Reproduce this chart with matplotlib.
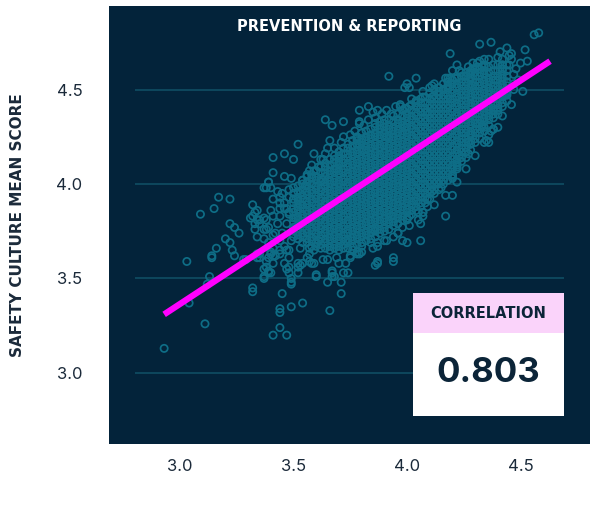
import numpy as np
import matplotlib
matplotlib.use("Agg")
import matplotlib.pyplot as plt
from matplotlib.patches import Rectangle

plt.rcParams["font.family"] = ["Inter", "DejaVu Sans"]
CAPS = ["DejaVu Sans"]          # wide bold caps for headings

# ------------------------------------------------------- data
title = "PREVENTION & REPORTING"
y_label = "SAFETY CULTURE MEAN SCORE"
x_ticks = [3.0, 3.5, 4.0, 4.5]
y_ticks = [3.0, 3.5, 4.0, 4.5]
correlation = 0.803
fit_x = [2.93, 4.63]
fit_y = [3.31, 4.65]

# isolated scores away from the main cloud
outer_pts = [
    (2.93, 3.13), (3.11, 3.26), (3.04, 3.37), (3.03, 3.59), (3.14, 3.62), (3.14, 3.61),
    (3.13, 3.51), (3.12, 3.47), (3.09, 3.84), (3.17, 3.93), (3.22, 3.92), (3.15, 3.87),
    (3.32, 3.89), (3.32, 3.83), (3.33, 3.85), (3.33, 3.79), (3.34, 3.81), (3.33, 3.76),
    (3.22, 3.79), (3.24, 3.77), (3.26, 3.74), (3.20, 3.71), (3.22, 3.69), (3.16, 3.66),
    (3.23, 3.65), (3.24, 3.62), (3.28, 3.60), (3.34, 3.63), (3.32, 3.45), (3.32, 3.43),
    (3.37, 3.50), (3.37, 3.55), (3.39, 3.53), (3.45, 3.42), (3.44, 3.34), (3.44, 3.32),
    (3.49, 3.35), (3.44, 3.24), (3.41, 3.20), (3.47, 3.20), (3.47, 3.55), (3.48, 3.53),
    (3.49, 3.50), (3.49, 3.48), (3.49, 3.47), (3.40, 3.64), (3.41, 3.62), (3.39, 3.61),
    (3.41, 3.58), (3.38, 3.56), (3.53, 3.57), (3.29, 3.60), (3.34, 3.61), (3.35, 3.63),
    (3.52, 4.21), (3.41, 4.14), (3.46, 4.16), (3.50, 4.13), (3.41, 4.06), (3.46, 4.04),
    (3.49, 4.03), (3.38, 3.98), (3.39, 4.01), (3.43, 3.96), (3.45, 3.95), (3.48, 3.93),
    (3.41, 3.92), (3.44, 3.90), (3.46, 3.87), (3.48, 3.85), (3.31, 3.82), (3.35, 3.79),
    (3.37, 3.82), (3.38, 3.76), (3.37, 3.71), (3.39, 3.69), (3.42, 3.74), (3.44, 3.70),
    (3.46, 3.67), (3.48, 3.65), (3.41, 3.66), (3.44, 3.63), (3.53, 3.66), (3.56, 3.61),
    (3.57, 3.66), (3.59, 3.65), (3.54, 3.58), (3.52, 3.53), (3.58, 3.58), (3.59, 3.58),
    (3.60, 3.52), (3.65, 3.60), (3.67, 3.54), (3.68, 3.51), (3.65, 3.48), (3.70, 3.58),
    (3.72, 3.53), (3.73, 3.58), (3.71, 3.48), (3.71, 3.42), (3.66, 3.33), (3.54, 3.37),
    (3.60, 3.51), (3.67, 3.53), (3.67, 3.51), (3.57, 3.59), (3.52, 3.58), (3.52, 3.56),
    (3.78, 3.63), (3.78, 3.64), (3.76, 3.65), (3.74, 3.53), (3.75, 3.61), (3.87, 3.58),
    (3.87, 3.59), (3.86, 3.57), (3.94, 3.59), (3.87, 3.67), (3.79, 3.63), (3.80, 3.67),
    (4.06, 3.70), (4.00, 3.69), (3.98, 3.70), (3.94, 3.61), (3.94, 3.72), (3.91, 3.70),
    (3.87, 3.69), (3.84, 3.69), (3.96, 3.74), (3.98, 3.77), (4.00, 3.81), (4.01, 3.83),
    (4.05, 3.81), (4.07, 3.85), (4.09, 3.88), (4.09, 3.92), (4.11, 3.96), (4.15, 3.98),
    (4.16, 4.02), (4.20, 4.03), (4.20, 4.05), (4.22, 4.09), (4.06, 3.79), (4.05, 3.85),
    (4.07, 3.85), (4.17, 3.83), (4.20, 3.94), (4.22, 4.10), (4.20, 4.04), (4.27, 4.16),
    (4.28, 4.26), (4.27, 4.22), (4.40, 4.30), (4.38, 4.29), (4.37, 4.28), (4.36, 4.26),
    (4.35, 4.23), (4.36, 4.22), (4.33, 4.30), (4.31, 4.32), (4.38, 4.39), (4.40, 4.39),
    (4.36, 4.39), (4.51, 4.49), (4.44, 4.54), (4.44, 4.48), (4.41, 4.49), (4.42, 4.66),
    (4.42, 4.63), (4.45, 4.63), (4.42, 4.60), (4.53, 4.65), (4.52, 4.71), (4.44, 4.72),
    (4.46, 4.69), (4.41, 4.70), (4.32, 4.74), (4.37, 4.75), (4.56, 4.79), (4.58, 4.80),
    (4.19, 4.69), (4.29, 4.64), (4.32, 4.65), (4.34, 4.66), (4.34, 4.63), (4.22, 4.63),
    (4.20, 4.60), (4.19, 4.56), (4.21, 4.56), (4.24, 4.59), (3.92, 4.57), (4.04, 4.56),
    (4.00, 4.53), (4.01, 4.51), (3.99, 4.51), (4.11, 4.52), (4.18, 4.56), (4.20, 4.55),
    (4.25, 4.57), (4.28, 4.59), (4.29, 4.61), (4.31, 4.62), (4.33, 4.62), (4.26, 4.57),
    (3.79, 4.39), (3.64, 4.34), (3.67, 4.31), (3.72, 4.33), (3.79, 4.33), (3.79, 4.32),
    (3.66, 4.23), (3.72, 4.25), (3.59, 4.16), (3.65, 4.19), (3.63, 4.13), (3.61, 4.09),
    (3.59, 4.07), (3.70, 4.14), (3.78, 4.24), (3.79, 4.21), (3.78, 4.21), (3.80, 4.27),
    (3.83, 4.41), (3.85, 4.38), (3.87, 4.39), (3.91, 4.39), (3.93, 4.37), (3.97, 4.41),
    (3.99, 4.40), (4.01, 4.41), (4.04, 4.44), (4.07, 4.46), (4.11, 4.46), (4.14, 4.49),
    (4.16, 4.50), (4.18, 4.51), (3.57, 4.07), (3.56, 4.05), (3.54, 4.02), (3.39, 4.01),
    (3.37, 3.98), (3.40, 3.98), (3.44, 3.87), (3.47, 3.87), (3.48, 3.84), (3.44, 3.83),
    (3.34, 3.86), (3.35, 3.81), (3.38, 3.81), (3.41, 3.83), (3.37, 3.76), (3.39, 3.77),
    (3.34, 3.72), (3.41, 3.73), (3.40, 3.63), (3.42, 3.62), (3.35, 3.61), (3.38, 3.59),
    (3.44, 3.65), (3.47, 3.65), (3.48, 3.61), (3.46, 3.58), (3.48, 3.56), (3.39, 3.54),
    (3.37, 3.51), (3.40, 3.53),
]

# scores hugging the edge of the dense band
edge_pts = [
    (3.58, 4.10), (3.62, 4.13), (3.68, 4.19), (3.71, 4.22), (3.75, 4.26), (3.81, 4.31),
    (3.86, 4.35), (3.89, 4.37), (3.95, 4.41), (4.02, 4.45), (4.07, 4.49), (4.12, 4.53),
    (4.17, 4.56), (4.23, 4.60), (4.27, 4.62), (3.83, 4.34), (3.97, 4.42), (4.10, 4.51),
    (3.64, 4.16), (3.77, 4.28), (3.57, 3.63), (3.63, 3.60), (3.69, 3.61), (3.75, 3.62),
    (3.80, 3.64), (3.85, 3.66), (3.90, 3.70), (3.96, 3.74), (4.01, 3.78), (4.07, 3.83),
    (4.12, 3.89), (4.17, 3.94), (4.22, 4.01), (4.26, 4.08), (4.30, 4.15), (4.34, 4.22),
    (4.38, 4.29), (4.42, 4.36), (4.46, 4.42), (4.47, 4.50), (4.47, 4.58), (4.46, 4.66),
    (4.48, 4.61), (4.49, 4.55), (4.50, 4.64), (4.47, 4.53), (4.45, 4.68), (4.40, 4.67),
    (4.36, 4.66), (4.31, 4.64), (3.47, 3.79), (3.50, 3.76), (3.45, 3.74), (3.52, 3.71),
    (3.49, 3.70), (3.46, 3.90), (3.50, 3.92), (3.53, 3.95), (3.43, 3.79), (3.40, 3.86),
    (3.51, 3.82), (3.48, 3.97), (3.44, 3.93), (3.55, 3.99), (3.53, 3.89),
    (3.61, 3.70), (3.63, 4.02), (3.69, 4.08), (3.73, 3.70), (3.81, 4.18), (3.85, 3.76),
    (3.91, 4.25), (3.93, 3.83), (3.99, 4.30), (4.03, 3.91), (4.09, 4.38), (4.13, 4.01),
    (4.19, 4.45), (4.23, 4.15), (4.29, 4.52), (4.33, 4.31), (4.39, 4.55), (4.43, 4.47),
]

# dense band: x of each column and the scores stacked in it
band_x = [3.50, 3.52, 3.54, 3.56, 3.58, 3.60, 3.62, 3.64, 3.66, 3.68, 3.70, 3.72,
          3.74, 3.76, 3.78, 3.80, 3.82, 3.84, 3.86, 3.88, 3.90, 3.92, 3.94, 3.96,
          3.98, 4.00, 4.02, 4.04, 4.06, 4.08, 4.10, 4.12, 4.14, 4.16, 4.18, 4.20,
          4.22, 4.24, 4.26, 4.28, 4.30, 4.32, 4.34, 4.36, 4.38, 4.40, 4.42, 4.44]
band_y = [
    [3.72, 3.75, 3.77, 3.80, 3.82, 3.85, 3.87, 3.90, 3.92, 3.95, 3.98],
    [3.71, 3.73, 3.76, 3.78, 3.81, 3.83, 3.86, 3.88, 3.91, 3.93, 3.96, 3.99],
    [3.69, 3.72, 3.74, 3.77, 3.79, 3.82, 3.84, 3.87, 3.89, 3.92, 3.94, 3.97, 4.00, 4.02],
    [3.69, 3.71, 3.74, 3.76, 3.79, 3.81, 3.84, 3.86, 3.89, 3.91, 3.94, 3.96, 3.99, 4.01, 4.04],
    [3.67, 3.70, 3.72, 3.75, 3.77, 3.80, 3.82, 3.85, 3.87, 3.90, 3.92, 3.95, 3.97, 4.00, 4.03, 4.05],
    [3.67, 3.69, 3.72, 3.74, 3.77, 3.79, 3.82, 3.84, 3.87, 3.89, 3.92, 3.94, 3.97, 3.99, 4.02, 4.04,
     4.07],
    [3.66, 3.68, 3.71, 3.73, 3.76, 3.78, 3.81, 3.83, 3.86, 3.88, 3.91, 3.93, 3.96, 3.98, 4.01, 4.03,
     4.06, 4.09],
    [3.66, 3.69, 3.71, 3.74, 3.76, 3.79, 3.81, 3.84, 3.86, 3.89, 3.91, 3.94, 3.96, 3.99, 4.01, 4.04,
     4.06, 4.09, 4.11],
    [3.65, 3.67, 3.70, 3.72, 3.75, 3.77, 3.80, 3.82, 3.85, 3.87, 3.90, 3.92, 3.95, 3.97, 4.00, 4.02,
     4.05, 4.07, 4.10, 4.13],
    [3.66, 3.68, 3.71, 3.73, 3.76, 3.78, 3.81, 3.83, 3.86, 3.88, 3.91, 3.93, 3.96, 3.98, 4.01, 4.03,
     4.06, 4.08, 4.11, 4.13, 4.15],
    [3.65, 3.67, 3.70, 3.72, 3.75, 3.77, 3.80, 3.82, 3.85, 3.87, 3.90, 3.92, 3.95, 3.97, 4.00, 4.02,
     4.05, 4.07, 4.10, 4.12, 4.15, 4.17],
    [3.66, 3.68, 3.71, 3.73, 3.76, 3.78, 3.81, 3.83, 3.86, 3.88, 3.91, 3.93, 3.96, 3.98, 4.01, 4.03,
     4.06, 4.08, 4.11, 4.13, 4.16, 4.19],
    [3.66, 3.69, 3.71, 3.74, 3.76, 3.79, 3.81, 3.84, 3.86, 3.89, 3.91, 3.94, 3.96, 3.99, 4.01, 4.04,
     4.06, 4.09, 4.11, 4.14, 4.16, 4.19, 4.21],
    [3.67, 3.70, 3.72, 3.75, 3.77, 3.80, 3.82, 3.85, 3.87, 3.90, 3.92, 3.95, 3.97, 4.00, 4.02, 4.05,
     4.07, 4.10, 4.12, 4.15, 4.17, 4.20, 4.23],
    [3.68, 3.71, 3.73, 3.76, 3.78, 3.81, 3.83, 3.86, 3.88, 3.91, 3.93, 3.96, 3.98, 4.01, 4.03, 4.06,
     4.08, 4.11, 4.13, 4.16, 4.18, 4.21, 4.23, 4.25],
    [3.69, 3.72, 3.74, 3.77, 3.79, 3.82, 3.84, 3.87, 3.89, 3.92, 3.94, 3.97, 3.99, 4.02, 4.04, 4.07,
     4.09, 4.12, 4.14, 4.17, 4.19, 4.22, 4.24, 4.27],
    [3.70, 3.73, 3.75, 3.78, 3.80, 3.83, 3.85, 3.88, 3.90, 3.93, 3.95, 3.98, 4.00, 4.03, 4.05, 4.08,
     4.10, 4.13, 4.15, 4.18, 4.20, 4.23, 4.25, 4.28],
    [3.71, 3.74, 3.76, 3.79, 3.81, 3.84, 3.86, 3.89, 3.91, 3.94, 3.96, 3.99, 4.01, 4.04, 4.06, 4.09,
     4.11, 4.14, 4.16, 4.19, 4.21, 4.24, 4.26, 4.29],
    [3.72, 3.75, 3.77, 3.80, 3.82, 3.85, 3.87, 3.90, 3.92, 3.95, 3.97, 4.00, 4.02, 4.05, 4.07, 4.10,
     4.12, 4.15, 4.17, 4.20, 4.22, 4.25, 4.27, 4.30, 4.32],
    [3.74, 3.76, 3.79, 3.81, 3.84, 3.86, 3.89, 3.91, 3.94, 3.96, 3.99, 4.01, 4.04, 4.06, 4.09, 4.11,
     4.14, 4.16, 4.19, 4.21, 4.24, 4.26, 4.29, 4.31, 4.33],
    [3.75, 3.77, 3.80, 3.82, 3.85, 3.87, 3.90, 3.92, 3.95, 3.97, 4.00, 4.02, 4.05, 4.07, 4.10, 4.12,
     4.15, 4.17, 4.20, 4.22, 4.25, 4.27, 4.30, 4.32, 4.34],
    [3.76, 3.79, 3.81, 3.84, 3.86, 3.89, 3.91, 3.94, 3.96, 3.99, 4.01, 4.04, 4.06, 4.09, 4.11, 4.14,
     4.16, 4.19, 4.21, 4.24, 4.26, 4.29, 4.31, 4.34],
    [3.78, 3.80, 3.83, 3.85, 3.88, 3.90, 3.93, 3.95, 3.98, 4.00, 4.03, 4.05, 4.08, 4.10, 4.13, 4.15,
     4.18, 4.20, 4.23, 4.25, 4.28, 4.30, 4.33, 4.36],
    [3.79, 3.82, 3.84, 3.87, 3.89, 3.92, 3.94, 3.97, 3.99, 4.02, 4.04, 4.07, 4.09, 4.12, 4.14, 4.17,
     4.19, 4.22, 4.24, 4.27, 4.29, 4.32, 4.34, 4.37],
    [3.81, 3.83, 3.86, 3.88, 3.91, 3.93, 3.96, 3.98, 4.01, 4.03, 4.06, 4.08, 4.11, 4.13, 4.16, 4.18,
     4.21, 4.23, 4.26, 4.28, 4.31, 4.33, 4.36, 4.39],
    [3.82, 3.85, 3.87, 3.90, 3.92, 3.95, 3.97, 4.00, 4.02, 4.05, 4.07, 4.10, 4.12, 4.15, 4.17, 4.20,
     4.22, 4.25, 4.27, 4.30, 4.32, 4.35, 4.37, 4.40],
    [3.84, 3.86, 3.89, 3.91, 3.94, 3.96, 3.99, 4.01, 4.04, 4.06, 4.09, 4.11, 4.14, 4.16, 4.19, 4.21,
     4.24, 4.26, 4.29, 4.31, 4.34, 4.36, 4.39, 4.42],
    [3.86, 3.88, 3.91, 3.93, 3.96, 3.98, 4.01, 4.03, 4.06, 4.08, 4.11, 4.13, 4.16, 4.18, 4.21, 4.23,
     4.26, 4.28, 4.31, 4.33, 4.36, 4.38, 4.41, 4.43],
    [3.88, 3.90, 3.93, 3.95, 3.98, 4.00, 4.03, 4.05, 4.08, 4.10, 4.13, 4.15, 4.18, 4.20, 4.23, 4.25,
     4.28, 4.30, 4.33, 4.35, 4.38, 4.40, 4.43, 4.45],
    [3.90, 3.93, 3.95, 3.98, 4.00, 4.03, 4.05, 4.08, 4.10, 4.13, 4.15, 4.18, 4.20, 4.23, 4.25, 4.28,
     4.30, 4.33, 4.35, 4.38, 4.40, 4.43, 4.46],
    [3.92, 3.95, 3.97, 4.00, 4.02, 4.05, 4.07, 4.10, 4.12, 4.15, 4.17, 4.20, 4.22, 4.25, 4.27, 4.30,
     4.32, 4.35, 4.37, 4.40, 4.42, 4.45, 4.48],
    [3.95, 3.97, 4.00, 4.02, 4.05, 4.07, 4.10, 4.12, 4.15, 4.17, 4.20, 4.22, 4.25, 4.27, 4.30, 4.32,
     4.35, 4.37, 4.40, 4.42, 4.45, 4.47, 4.50],
    [3.97, 4.00, 4.02, 4.05, 4.07, 4.10, 4.12, 4.15, 4.17, 4.20, 4.22, 4.25, 4.27, 4.30, 4.32, 4.35,
     4.37, 4.40, 4.42, 4.45, 4.47, 4.51],
    [4.00, 4.02, 4.05, 4.07, 4.10, 4.12, 4.15, 4.17, 4.20, 4.22, 4.25, 4.27, 4.30, 4.32, 4.35, 4.37,
     4.40, 4.42, 4.45, 4.47, 4.50, 4.53],
    [4.02, 4.05, 4.07, 4.10, 4.12, 4.15, 4.17, 4.20, 4.22, 4.25, 4.27, 4.30, 4.32, 4.35, 4.37, 4.40,
     4.42, 4.45, 4.47, 4.50, 4.52, 4.54],
    [4.05, 4.08, 4.10, 4.13, 4.15, 4.18, 4.20, 4.23, 4.25, 4.28, 4.30, 4.33, 4.35, 4.38, 4.40, 4.43,
     4.45, 4.48, 4.50, 4.53, 4.55],
    [4.08, 4.11, 4.13, 4.16, 4.18, 4.21, 4.23, 4.26, 4.28, 4.31, 4.33, 4.36, 4.38, 4.41, 4.43, 4.46,
     4.48, 4.51, 4.53, 4.56],
    [4.12, 4.14, 4.17, 4.19, 4.22, 4.24, 4.27, 4.29, 4.32, 4.34, 4.37, 4.39, 4.42, 4.44, 4.47, 4.49,
     4.52, 4.54, 4.57],
    [4.14, 4.17, 4.19, 4.22, 4.24, 4.27, 4.29, 4.32, 4.34, 4.37, 4.39, 4.42, 4.44, 4.47, 4.49, 4.52,
     4.54, 4.57, 4.59],
    [4.18, 4.21, 4.23, 4.26, 4.28, 4.31, 4.33, 4.36, 4.38, 4.41, 4.43, 4.46, 4.48, 4.51, 4.53, 4.56,
     4.58, 4.60],
    [4.22, 4.24, 4.27, 4.29, 4.32, 4.34, 4.37, 4.39, 4.42, 4.44, 4.47, 4.49, 4.52, 4.54, 4.57, 4.59,
     4.61],
    [4.24, 4.27, 4.29, 4.32, 4.34, 4.37, 4.39, 4.42, 4.44, 4.47, 4.49, 4.52, 4.54, 4.57, 4.59, 4.61],
    [4.28, 4.30, 4.33, 4.35, 4.38, 4.40, 4.43, 4.45, 4.48, 4.50, 4.53, 4.55, 4.58, 4.60, 4.62],
    [4.31, 4.34, 4.36, 4.39, 4.41, 4.44, 4.46, 4.49, 4.51, 4.54, 4.56, 4.59, 4.62],
    [4.35, 4.37, 4.40, 4.42, 4.45, 4.47, 4.50, 4.52, 4.55, 4.57, 4.60, 4.63],
    [4.37, 4.40, 4.42, 4.45, 4.47, 4.50, 4.52, 4.55, 4.57, 4.60, 4.63],
    [4.41, 4.43, 4.46, 4.48, 4.51, 4.53, 4.56, 4.58, 4.61, 4.63],
    [4.44, 4.47, 4.49, 4.52, 4.54, 4.57, 4.60, 4.63],
]

# ------------------------------------------------------- assemble
bx = np.concatenate([[x] * len(ys) for x, ys in zip(band_x, band_y)])
by = np.concatenate(band_y)
ox, oy = np.array(outer_pts + edge_pts).T
xs = np.concatenate([ox, bx])
ys = np.concatenate([oy, by])

# ------------------------------------------------------- figure
NAVY = "#03233a"
INK = "#1b2a3a"
RING = "#0e6d86"
GRID = "#0f4a60"

fig = plt.figure(figsize=(5.9, 5.17), dpi=100)
fig.patch.set_facecolor("white")
ax = fig.add_axes([0.1847, 0.1412, 0.8153, 0.8472])
ax.set_facecolor(NAVY)
for s in ax.spines.values():
    s.set_visible(False)

ax.set_xlim(2.687, 4.806)
ax.set_ylim(2.624, 4.942)

ax.hlines(y_ticks, 2.80, 4.69, color=GRID, lw=1.3, zorder=1)
ax.scatter(xs, ys, s=27, facecolors="none", edgecolors=RING,
           linewidths=1.25, zorder=2)
ax.plot(fit_x, fit_y, color="#ff00ff", lw=4.5, solid_capstyle="butt", zorder=3)

ax.set_xticks(x_ticks, [f"{v:.1f}" for v in x_ticks])
ax.set_yticks(y_ticks, [f"{v:.1f}" for v in y_ticks])
ax.tick_params(axis="both", length=0, labelsize=12, labelcolor=INK)
ax.tick_params(axis="x", pad=11)
ax.tick_params(axis="y", pad=19)

ax.text(0.5, 0.953, title, transform=ax.transAxes, ha="center", va="center",
        color="white", fontsize=10.5, fontweight="bold", family=CAPS)
fig.text(0.029, 0.565, y_label, rotation=90, ha="center", va="center",
         color=INK, fontsize=11, fontweight="bold", family=CAPS)

# correlation card
ax.add_patch(Rectangle((0.632, 0.253), 0.314, 0.092, transform=ax.transAxes,
                       facecolor="#fad3fa", edgecolor="none", zorder=4))
ax.add_patch(Rectangle((0.632, 0.064), 0.314, 0.189, transform=ax.transAxes,
                       facecolor="white", edgecolor="none", zorder=4))
ax.text(0.789, 0.299, "CORRELATION", transform=ax.transAxes, ha="center",
        va="center", color="#0b2438", fontsize=10.5, fontweight="bold",
        family=CAPS, zorder=5)
ax.text(0.789, 0.161, f"{correlation:.3f}", transform=ax.transAxes, ha="center",
        va="center", color="#0b2438", fontsize=25, fontweight="bold", zorder=5)

fig.savefig("out.png", dpi=100, facecolor="white")
